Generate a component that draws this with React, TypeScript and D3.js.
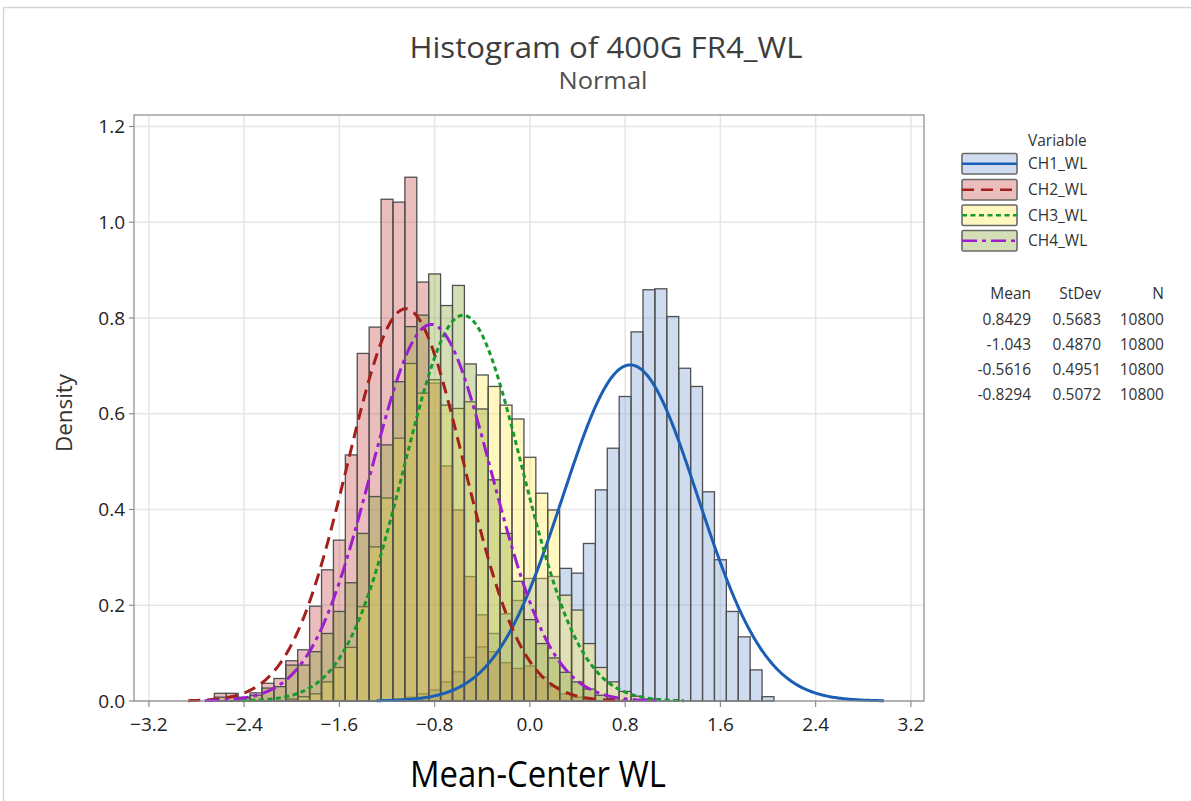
import React from "react";
import * as d3 from "d3";

// ---------- data ----------
const binCenters = [
  -2.6, -2.5, -2.4, -2.3, -2.2, -2.1, -2.0, -1.9, -1.8, -1.7, -1.6, -1.5, -1.4, -1.3, -1.2, -1.1,
  -1.0, -0.9, -0.8, -0.7, -0.6, -0.5, -0.4, -0.3, -0.2, -0.1, 0.0, 0.1, 0.2, 0.3, 0.4, 0.5,
  0.6, 0.7, 0.8, 0.9, 1.0, 1.1, 1.2, 1.3, 1.4, 1.5, 1.6, 1.7, 1.8, 1.9, 2.0,
];
const binWidth = 0.1;

const ch1Density = [
  0, 0, 0, 0, 0, 0, 0, 0, 0, 0, 0, 0, 0, 0, 0, 0.004,
  0.008, 0.015, 0.023, 0.04, 0.061, 0.091, 0.113, 0.141, 0.182, 0.21, 0.256, 0.256, 0.26, 0.277, 0.267, 0.329,
  0.441, 0.528, 0.636, 0.771, 0.859, 0.861, 0.803, 0.695, 0.657, 0.437, 0.295, 0.187, 0.134, 0.065, 0.009,
];
const ch2Density = [
  0.016, 0.016, 0.008, 0.017, 0.037, 0.047, 0.084, 0.107, 0.198, 0.274, 0.336, 0.514, 0.726, 0.781, 1.048, 1.042,
  1.094, 0.875, 0.664, 0.491, 0.399, 0.26, 0.18, 0.103, 0.08, 0.068, 0.073, 0.05, 0.03, 0.015, 0.008, 0.004,
  0, 0, 0, 0, 0, 0, 0, 0, 0, 0, 0, 0, 0, 0, 0,
];
const ch3Density = [
  0, 0, 0, 0, 0, 0, 0.004, 0.009, 0.015, 0.04, 0.07, 0.112, 0.197, 0.322, 0.424, 0.549,
  0.705, 0.643, 0.671, 0.618, 0.611, 0.625, 0.681, 0.657, 0.618, 0.589, 0.509, 0.434, 0.399, 0.221, 0.19, 0.12,
  0.07, 0.04, 0.02, 0.01, 0.004, 0, 0, 0, 0, 0, 0, 0, 0, 0, 0,
];
const ch4Density = [
  0.008, 0.008, 0.007, 0.012, 0.027, 0.03, 0.075, 0.075, 0.103, 0.141, 0.187, 0.247, 0.35, 0.427, 0.535, 0.667,
  0.782, 0.806, 0.892, 0.826, 0.868, 0.704, 0.61, 0.462, 0.35, 0.25, 0.17, 0.12, 0.09, 0.06, 0.04, 0.025,
  0.012, 0.005, 0, 0, 0, 0, 0, 0, 0, 0, 0, 0, 0, 0, 0,
];

const seriesNames = ["CH1_WL", "CH2_WL", "CH3_WL", "CH4_WL"];
const means = [0.8429, -1.043, -0.5616, -0.8294];
const stdevs = [0.5683, 0.487, 0.4951, 0.5072];
const meanLabels = ["0.8429", "-1.043", "-0.5616", "-0.8294"];
const stdevLabels = ["0.5683", "0.4870", "0.4951", "0.5072"];
const nLabels = ["10800", "10800", "10800", "10800"];

const xTicks = [-3.2, -2.4, -1.6, -0.8, 0.0, 0.8, 1.6, 2.4, 3.2];
const yTicks = [0.0, 0.2, 0.4, 0.6, 0.8, 1.0, 1.2];

// ---------- styles ----------
const allDensities = [ch1Density, ch2Density, ch3Density, ch4Density];
const fillColors = ["#769bd2", "#c64242", "#ffe54b", "#87a32f"];
const fillOpacity = 0.35;
const lineColors = ["#1b5fb4", "#a3201c", "#169a2c", "#9b1fcf"];
const lineDash = ["none", "12,7", "5,3.5", "15,5,4,5"];

const W = 1191;
const H = 801;
const plotL = 134;
const plotR = 924;
const plotT = 115;
const plotB = 701;

const FONT = "'Open Sans', 'Noto Sans', sans-serif";

export default function App() {
  const x = d3.scaleLinear().domain([-3.325, 3.31]).range([plotL, plotR]);
  const y = d3.scaleLinear().domain([0, 1.224]).range([plotB, plotT]);

  const curvePath = (m: number, s: number) => {
    const pts = d3.range(-3.75, 3.7501, 0.02).map((z) => {
      const v = m + z * s;
      const d = Math.exp(-0.5 * z * z) / (s * Math.sqrt(2 * Math.PI));
      return [v, d] as [number, number];
    });
    return d3
      .line<[number, number]>()
      .x((p) => x(p[0]))
      .y((p) => y(p[1]))
      .curve(d3.curveLinear)(pts) as string;
  };

  const legendY = [153.5, 179.5, 205, 230.5];
  const statsRowY = [319.5, 345, 369.5, 394.5];

  return (
    <svg
      width={W}
      height={H}
      style={{ position: "absolute", left: 0, top: 0, background: "#fff" }}
    >
      <rect x={0} y={0} width={W} height={H} fill="#fff" />
      {/* outer frame */}
      <line x1={3.5} y1={7.5} x2={W} y2={7.5} stroke="#d6d6d6" strokeWidth={1.5} />
      <line x1={3.5} y1={7.5} x2={3.5} y2={H} stroke="#d6d6d6" strokeWidth={1.5} />

      {/* titles */}
      <text
        x={606}
        y={58}
        textAnchor="middle"
        fontFamily={FONT}
        fontSize={29}
        fill="#3d3d3d"
        textLength={393}
        lengthAdjust="spacingAndGlyphs"
      >
        Histogram of 400G FR4_WL
      </text>
      <text
        x={603}
        y={89}
        textAnchor="middle"
        fontFamily={FONT}
        fontSize={23}
        fill="#505050"
        textLength={89}
        lengthAdjust="spacingAndGlyphs"
      >
        Normal
      </text>

      {/* gridlines */}
      {xTicks.map((t) => (
        <line key={"gx" + t} x1={x(t)} x2={x(t)} y1={plotT} y2={plotB} stroke="#e6e6e6" strokeWidth={1.5} />
      ))}
      {yTicks.map((t) => (
        <line key={"gy" + t} x1={plotL} x2={plotR} y1={y(t)} y2={y(t)} stroke="#e6e6e6" strokeWidth={1.5} />
      ))}

      {/* histogram bars */}
      {allDensities.map((dens, si) => (
        <g key={"s" + si}>
          {binCenters.map((c, i) =>
            dens[i] > 0 ? (
              <rect
                key={i}
                x={x(c - binWidth / 2)}
                y={y(dens[i])}
                width={x(c + binWidth / 2) - x(c - binWidth / 2)}
                height={y(0) - y(dens[i])}
                fill={fillColors[si]}
                fillOpacity={fillOpacity}
                stroke="#505050"
                strokeWidth={1.3}
              />
            ) : null
          )}
        </g>
      ))}

      {/* fitted normal curves */}
      {means.map((m, si) => (
        <path
          key={"c" + si}
          d={curvePath(m, stdevs[si])}
          fill="none"
          stroke={lineColors[si]}
          strokeWidth={3}
          strokeDasharray={lineDash[si]}
        />
      ))}

      {/* plot frame */}
      <rect x={plotL} y={plotT} width={plotR - plotL} height={plotB - plotT} fill="none" stroke="#8a8a8a" strokeWidth={1.2} />

      {/* axes ticks */}
      {xTicks.map((t) => (
        <g key={"xt" + t}>
          <line x1={x(t)} x2={x(t)} y1={plotB} y2={plotB + 6} stroke="#8a8a8a" strokeWidth={1.2} />
          <text
            x={x(t)}
            y={731}
            textAnchor="middle"
            fontFamily={FONT}
            fontSize={19}
            fill="#222"
          >
            {d3.format(".1f")(t)}
          </text>
        </g>
      ))}
      {yTicks.map((t) => (
        <g key={"yt" + t}>
          <line x1={plotL - 5} x2={plotL} y1={y(t)} y2={y(t)} stroke="#8a8a8a" strokeWidth={1.2} />
          <text
            x={125}
            y={y(t)}
            dy="0.35em"
            textAnchor="end"
            fontFamily={FONT}
            fontSize={19}
            fill="#222"
          >
            {d3.format(".1f")(t)}
          </text>
        </g>
      ))}

      {/* axis labels */}
      <text
        transform={`translate(72,413) rotate(-90)`}
        textAnchor="middle"
        fontFamily={FONT}
        fontSize={21}
        fill="#333"
        textLength={78}
        lengthAdjust="spacingAndGlyphs"
      >
        Density
      </text>
      <text
        x={538}
        y={787}
        textAnchor="middle"
        fontFamily={FONT}
        fontSize={36}
        fill="#000"
        textLength={256}
        lengthAdjust="spacingAndGlyphs"
      >
        Mean-Center WL
      </text>

      {/* legend */}
      <text x={1028} y={146} fontFamily={FONT} fontSize={15.5} fill="#333">
        Variable
      </text>
      {seriesNames.map((n, si) => (
        <g key={"lg" + si}>
          <rect x={962} y={legendY[si]} width={55} height={20.5} fill="#fff" />
          <rect
            x={962}
            y={legendY[si]}
            width={55}
            height={20.5}
            rx={1.5}
            fill={fillColors[si]}
            fillOpacity={fillOpacity}
            stroke="#6a6a6a"
            strokeWidth={1.6}
          />
          <line
            x1={962}
            x2={1017}
            y1={legendY[si] + 10.25}
            y2={legendY[si] + 10.25}
            stroke={lineColors[si]}
            strokeWidth={2.7}
            strokeDasharray={lineDash[si]}
          />
          <text x={1028} y={legendY[si] + 10.25} dy="0.35em" fontFamily={FONT} fontSize={15.5} fill="#333">
            {n}
          </text>
        </g>
      ))}

      {/* stats table */}
      <text x={1031} y={293.5} dy="0.35em" textAnchor="end" fontFamily={FONT} fontSize={15.5} fill="#333">
        Mean
      </text>
      <text x={1101} y={293.5} dy="0.35em" textAnchor="end" fontFamily={FONT} fontSize={15.5} fill="#333">
        StDev
      </text>
      <text x={1164} y={293.5} dy="0.35em" textAnchor="end" fontFamily={FONT} fontSize={15.5} fill="#333">
        N
      </text>
      {meanLabels.map((m, i) => (
        <g key={"st" + i}>
          <text x={1031} y={statsRowY[i]} dy="0.35em" textAnchor="end" fontFamily={FONT} fontSize={15.5} fill="#333">
            {m}
          </text>
          <text x={1101} y={statsRowY[i]} dy="0.35em" textAnchor="end" fontFamily={FONT} fontSize={15.5} fill="#333">
            {stdevLabels[i]}
          </text>
          <text x={1164} y={statsRowY[i]} dy="0.35em" textAnchor="end" fontFamily={FONT} fontSize={15.5} fill="#333">
            {nLabels[i]}
          </text>
        </g>
      ))}
    </svg>
  );
}
